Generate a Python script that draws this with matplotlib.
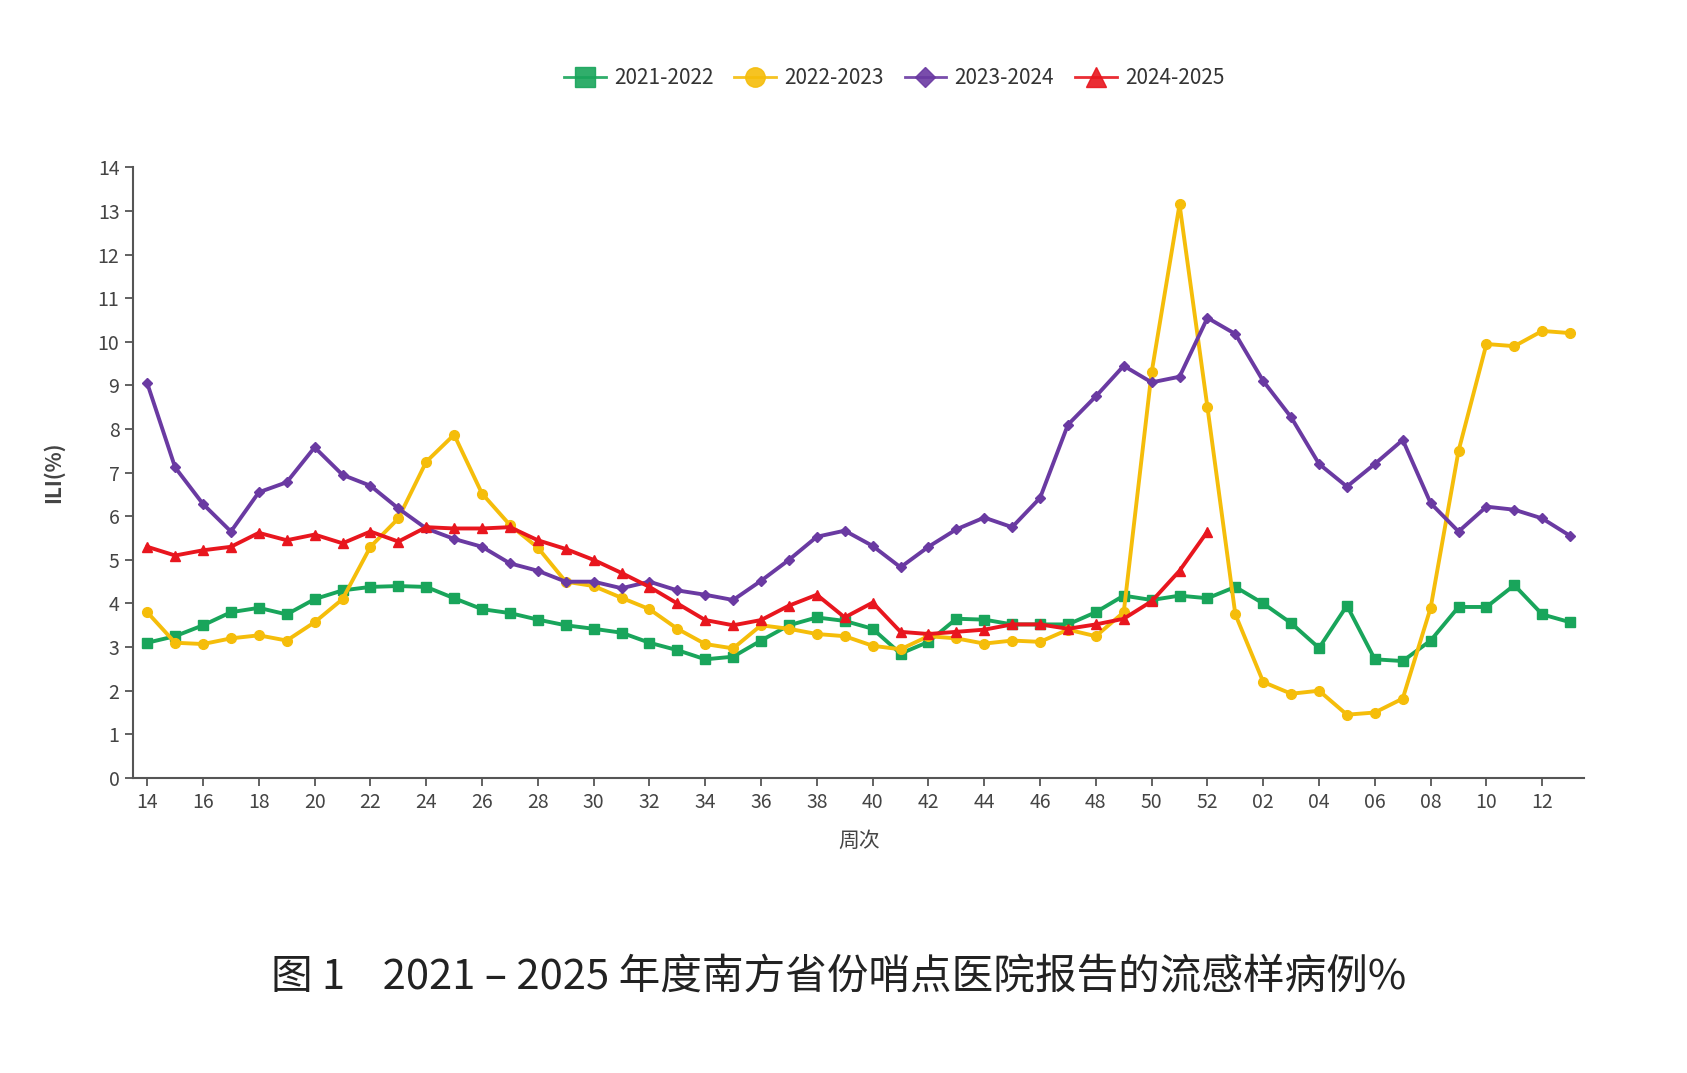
import matplotlib
matplotlib.use("Agg")
import matplotlib.pyplot as plt

plt.rcParams['font.family'] = ['Noto Sans CJK SC', 'DejaVu Sans']

weeks = [str(w) for w in range(14, 53)] + ['%02d' % w for w in range(1, 14)]

ili_2021 = [3.10, 3.25, 3.50, 3.80, 3.90, 3.75, 4.10, 4.30, 4.38, 4.40, 4.38, 4.12, 3.87,
            3.78, 3.63, 3.50, 3.42, 3.33, 3.10, 2.93, 2.72, 2.78, 3.15, 3.50, 3.68, 3.60,
            3.42, 2.85, 3.12, 3.65, 3.63, 3.52, 3.52, 3.52, 3.80, 4.18, 4.08, 4.18, 4.12,
            4.38, 4.00, 3.55, 2.98, 3.95, 2.72, 2.68, 3.15, 3.92, 3.92, 4.42, 3.75, 3.57]
ili_2022 = [3.80, 3.10, 3.07, 3.20, 3.27, 3.15, 3.57, 4.10, 5.30, 5.95, 7.25, 7.87, 6.52,
            5.80, 5.28, 4.50, 4.40, 4.13, 3.87, 3.42, 3.07, 2.97, 3.50, 3.42, 3.30, 3.25,
            3.03, 2.95, 3.25, 3.20, 3.08, 3.15, 3.12, 3.40, 3.25, 3.80, 9.30, 13.15, 8.50,
            3.75, 2.20, 1.93, 2.00, 1.45, 1.50, 1.82, 3.90, 7.50, 9.95, 9.90, 10.25, 10.20]
ili_2023 = [9.05, 7.12, 6.28, 5.65, 6.55, 6.78, 7.58, 6.95, 6.70, 6.18, 5.72, 5.48, 5.30,
            4.92, 4.75, 4.50, 4.50, 4.35, 4.50, 4.30, 4.20, 4.08, 4.52, 5.00, 5.53, 5.67,
            5.32, 4.83, 5.30, 5.70, 5.97, 5.75, 6.42, 8.10, 8.75, 9.45, 9.07, 9.20, 10.55,
            10.18, 9.10, 8.27, 7.20, 6.68, 7.20, 7.75, 6.30, 5.65, 6.22, 6.15, 5.95, 5.55]
ili_2024 = [5.30, 5.10, 5.22, 5.30, 5.62, 5.45, 5.58, 5.38, 5.65, 5.42, 5.75, 5.72, 5.72,
            5.75, 5.45, 5.25, 5.00, 4.70, 4.38, 4.00, 3.62, 3.50, 3.62, 3.95, 4.20, 3.68,
            4.02, 3.35, 3.30, 3.35, 3.40, 3.52, 3.52, 3.42, 3.52, 3.65, 4.05, 4.75, 5.65]

series = [
    ('2021-2022', ili_2021, '#19a55b', 's', 7),
    ('2022-2023', ili_2022, '#f5bd0a', 'o', 7),
    ('2023-2024', ili_2023, '#6a3aa2', 'D', 5),
    ('2024-2025', ili_2024, '#e8161e', '^', 7),
]

fig = plt.figure(figsize=(16.87, 10.73), dpi=100)
ax = fig.add_axes([0.079, 0.275, 0.860, 0.569])

handles = []
for name, vals, color, marker, ms in series:
    ax.plot(range(len(vals)), vals, color=color, lw=2.8, marker=marker, markersize=ms)
    # legend entry: lighter line with a bigger marker
    h, = ax.plot([], [], color=color, lw=2, alpha=0.9, marker=marker,
                 markersize=ms * 2.0, label=name)
    handles.append(h)

ax.set_xlim(-0.5, len(weeks) - 0.5)
ax.set_ylim(0, 14)
ax.set_yticks(range(0, 15))
ax.set_xticks(range(0, len(weeks), 2))
ax.set_xticklabels(weeks[::2])

for s in ['top', 'right']:
    ax.spines[s].set_visible(False)
for s in ['left', 'bottom']:
    ax.spines[s].set_color('#555555')
    ax.spines[s].set_linewidth(1.5)
ax.tick_params(axis='both', direction='out', length=6, width=1.3, color='#555555',
               labelsize=14, labelcolor='#444444', pad=4)

ax.set_ylabel('ILI(%)', fontsize=15, color='#444444', fontweight='bold', labelpad=24)
ax.set_xlabel('周次', fontsize=15, color='#444444', labelpad=12)

fig.legend(handles=handles, loc='center', bbox_to_anchor=(0.53, 0.927), ncol=4,
           frameon=False, fontsize=15, handlelength=2.0, columnspacing=1.0,
           handletextpad=0.4, labelcolor='#333333')

fig.text(0.497, 0.089, '图 1    2021 – 2025 年度南方省份哨点医院报告的流感样病例%',
         ha='center', va='center', fontsize=30, color='#222222')

fig.savefig('out.png', dpi=100)
